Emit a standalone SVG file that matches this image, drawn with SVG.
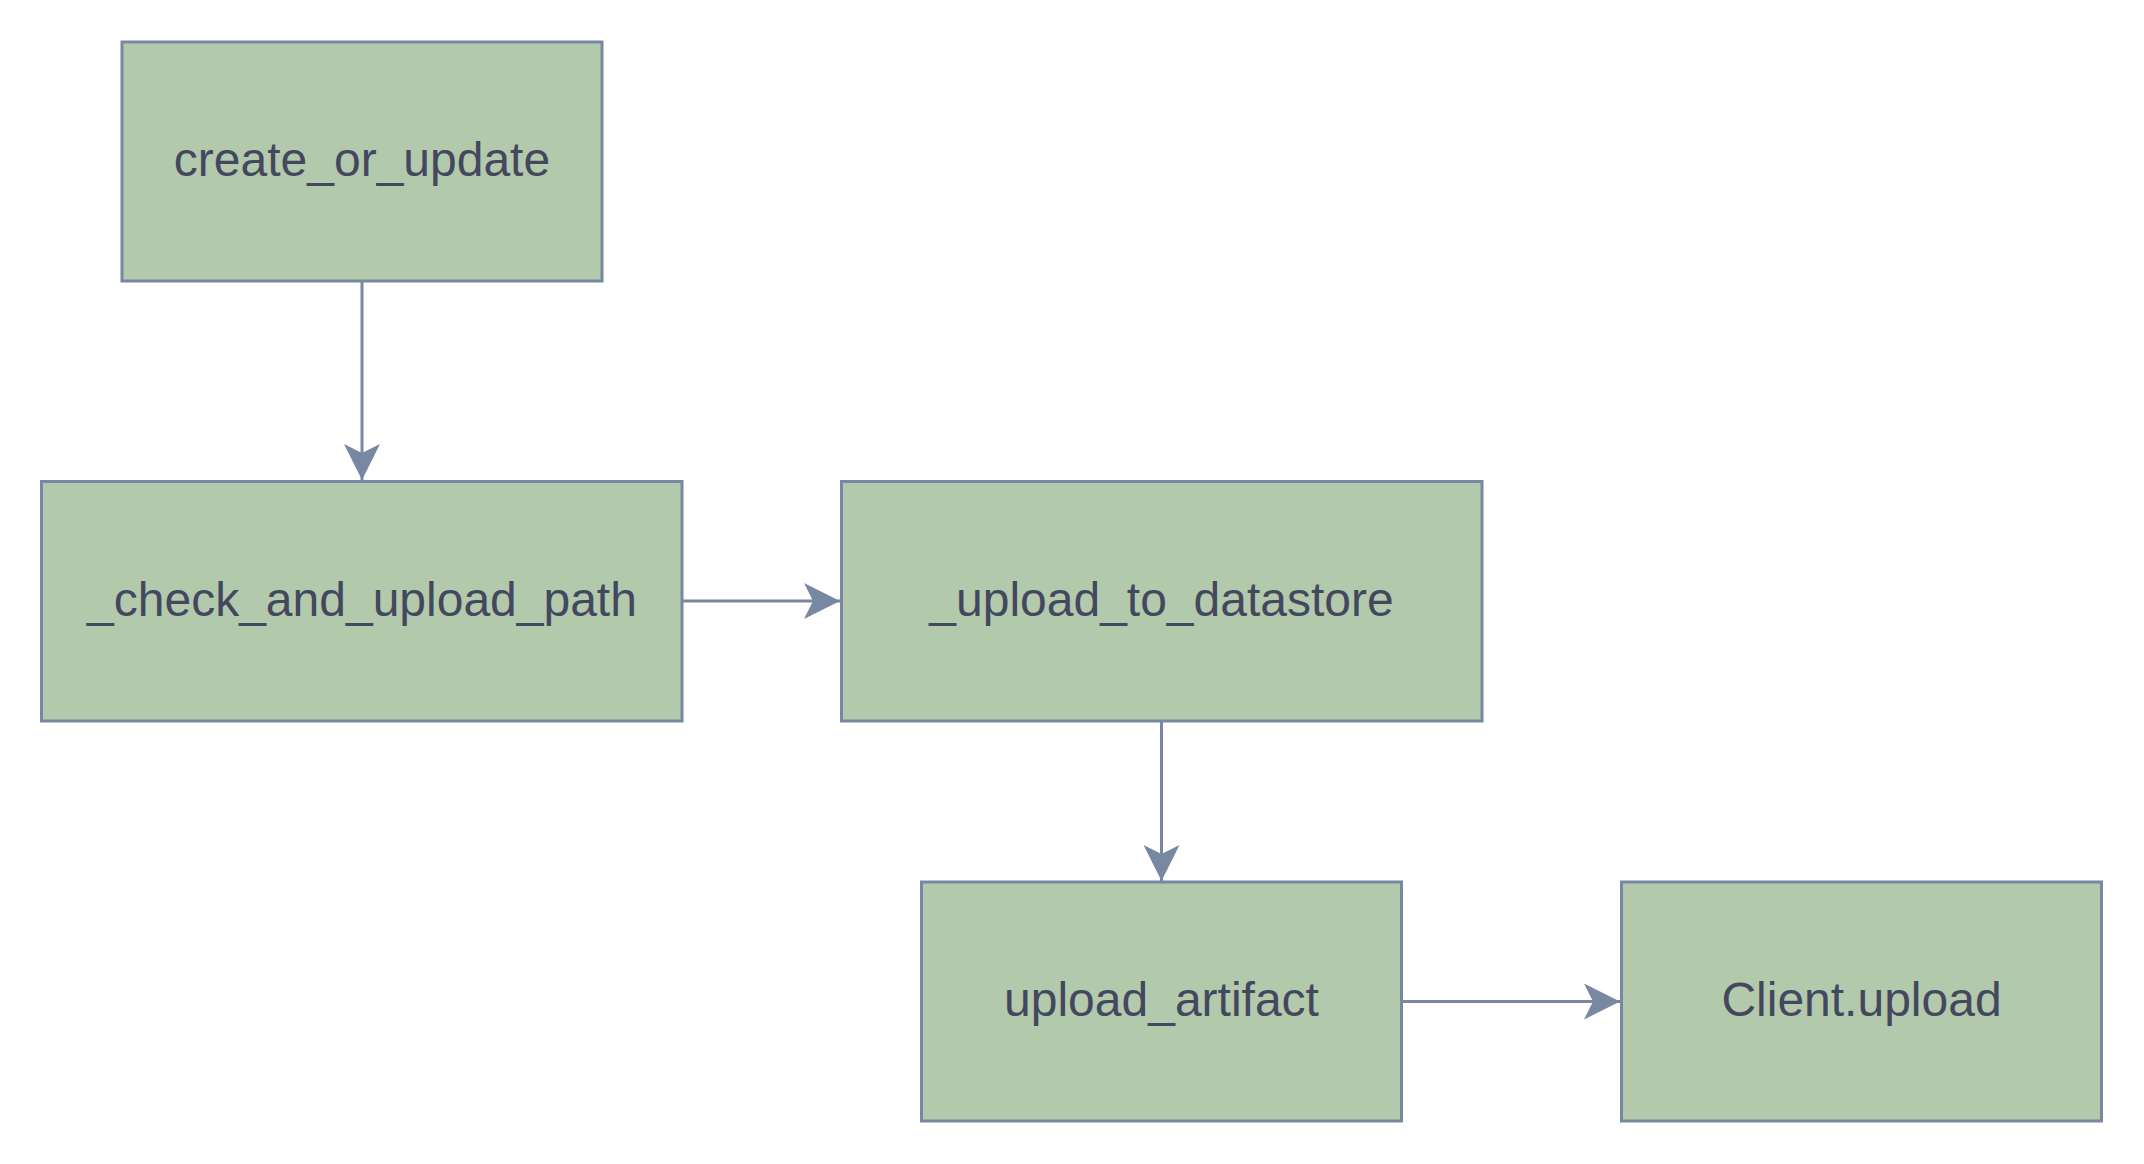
<svg xmlns="http://www.w3.org/2000/svg" width="2144" height="1164" viewBox="0 0 2144 1164">
<style>
.node rect{fill:#b3c9ab;stroke:#7888a2;stroke-width:3}
.node text{font-family:"Liberation Sans",Arial,sans-serif;font-size:48px;fill:#44485f;text-anchor:middle}
.edge{stroke:#7888a2;stroke-width:3;fill:none}
</style>
<defs>
<marker id="arr" viewBox="0 0 36 36" refX="36" refY="18" markerWidth="36" markerHeight="36" markerUnits="userSpaceOnUse" orient="auto">
<path d="M0,0 L36,18 L0,36 L9,18 z" fill="#7888a2"/>
</marker>
</defs>
<rect width="2144" height="1164" fill="#ffffff"/>
<g id="connectors">
<path class="edge" d="M362,281 L362,480" marker-end="url(#arr)"/>
<path class="edge" d="M682,601 L840,601" marker-end="url(#arr)"/>
<path class="edge" d="M1161.5,721 L1161.5,881" marker-end="url(#arr)"/>
<path class="edge" d="M1401,1001.5 L1620,1001.5" marker-end="url(#arr)"/>
</g>
<g id="create_or_update" class="node">
<rect x="122" y="42" width="480" height="239"/>
<text x="362" y="176">create_or_update</text>
</g>
<g id="check_and_upload_path" class="node">
<rect x="41.5" y="481.5" width="640.5" height="239.5"/>
<text x="362" y="616">_check_and_upload_path</text>
</g>
<g id="upload_to_datastore" class="node">
<rect x="841.5" y="481.5" width="640.5" height="239.5"/>
<text x="1161.5" y="616">_upload_to_datastore</text>
</g>
<g id="upload_artifact" class="node">
<rect x="921.5" y="882" width="480" height="239"/>
<text x="1161.5" y="1016">upload_artifact</text>
</g>
<g id="client_upload" class="node">
<rect x="1621.5" y="882" width="480" height="239"/>
<text x="1861.5" y="1016">Client.upload</text>
</g>
</svg>
